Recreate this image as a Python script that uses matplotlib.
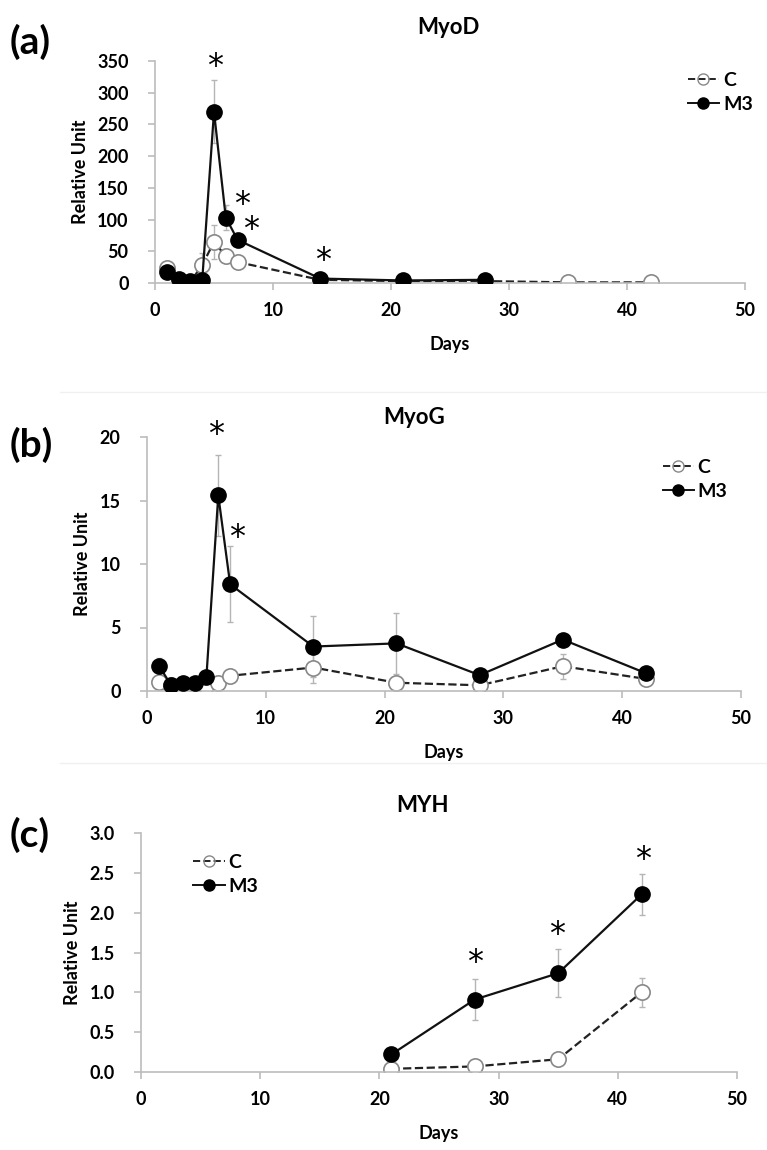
import matplotlib
matplotlib.use('Agg')
import matplotlib.pyplot as plt
from matplotlib.lines import Line2D

plt.rcParams['font.family'] = ['Lato', 'DejaVu Sans']
plt.rcParams['font.weight'] = 'bold'

# ---- data ----
myod_days_c = [1, 2, 3, 4, 5, 6, 7, 14, 21, 28, 35, 42]
myod_c = [23, 5, 2, 28, 65, 42, 33, 5, 3, 3, 1, 1]
myod_c_err = [5, 0, 0, 19, 27, 0, 0, 0, 0, 0, 0, 0]
myod_days_m3 = [1, 2, 3, 4, 5, 6, 7, 14, 21, 28]
myod_m3 = [18, 7, 3, 4, 270, 103, 68, 7, 4, 5]
myod_m3_err = [0, 0, 0, 0, 50, 20, 0, 0, 0, 0]
myod_star_x = [5.05, 7.35, 8.15, 14.2]
myod_star_y = [342, 124, 85, 35]

myog_days = [1, 2, 3, 4, 5, 6, 7, 14, 21, 28, 35, 42]
myog_c = [0.7, 0.5, 0.3, 0.5, 0.4, 0.65, 1.2, 1.85, 0.65, 0.45, 1.95, 0.95]
myog_c_err = [0, 0, 0, 0, 0, 0, 0, 1.2, 0, 0, 1.0, 0]
myog_m3 = [2.0, 0.5, 0.6, 0.6, 1.1, 15.4, 8.4, 3.5, 3.75, 1.25, 4.05, 1.4]
myog_m3_err = [0.6, 0, 0, 0, 0, 3.2, 3.0, 2.4, 2.4, 0, 0.4, 0]
myog_star_x = [5.8, 7.55]
myog_star_y = [20.2, 12.1]

myh_days = [21, 28, 35, 42]
myh_c = [0.04, 0.07, 0.16, 1.0]
myh_c_err = [0, 0, 0, 0.18]
myh_m3 = [0.22, 0.91, 1.24, 2.23]
myh_m3_err = [0.1, 0.26, 0.3, 0.26]
myh_star_x = [28.0, 34.9, 42.1]
myh_star_y = [1.37, 1.72, 2.67]

W, H = 767, 1150
fig = plt.figure(figsize=(W / 100, H / 100), dpi=100)

err_col = '#b5b5b5'
spine_col = '#bcbcbc'


def draw_panel(ax, dc, c, ce, dm, m, me, sx, sy, ymax, ystep, yfmt, leg_anchor):
    ax.errorbar(dc, c, yerr=ce, fmt='none', ecolor=err_col, elinewidth=1, capsize=2.5, zorder=1)
    ax.errorbar(dm, m, yerr=me, fmt='none', ecolor=err_col, elinewidth=1, capsize=2.5, zorder=1)
    ax.plot(dc, c, linestyle='--', color='#222222', lw=1.6, marker='o', ms=11,
            mfc='white', mec='#888888', mew=1.2, label='C', zorder=2)
    ax.plot(dm, m, linestyle='-', color='#111111', lw=1.6, marker='o', ms=11,
            mfc='black', mec='black', label='M3', zorder=3)
    for x, y in zip(sx, sy):
        ax.text(x, y, '*', ha='center', va='center', fontsize=23, fontweight='normal',
                family='DejaVu Sans')
    ax.set_xlim(0, 50)
    ax.set_ylim(0, ymax)
    ax.set_xticks(range(0, 51, 10))
    yt = [i * ystep for i in range(int(round(ymax / ystep)) + 1)]
    ax.set_yticks(yt)
    ax.set_yticklabels([yfmt.format(v) for v in yt])
    for s in ['top', 'right']:
        ax.spines[s].set_visible(False)
    for s in ['left', 'bottom']:
        ax.spines[s].set_color(spine_col)
        ax.spines[s].set_linewidth(1.2)
    ax.tick_params(colors=spine_col, labelcolor='black', labelsize=13, length=5, width=1.2)
    ax.tick_params(axis='x', pad=9)
    ax.tick_params(axis='y', pad=14)
    for lab in ax.get_xticklabels() + ax.get_yticklabels():
        lab.set_fontweight('bold')
    ax.set_xlabel('Days', fontsize=13, fontweight='bold', labelpad=12)
    ax.set_ylabel('Relative Unit', fontsize=13, fontweight='bold', labelpad=6)
    h1 = Line2D([], [], linestyle='--', color='#222222', lw=1.4, marker='o', ms=8,
                mfc='none', mec='#888888')
    h2 = Line2D([], [], linestyle='-', color='#111111', lw=1.4, marker='o', ms=8,
                mfc='black', mec='black')
    leg = ax.legend([h1, h2], ['C', 'M3'], loc='upper left', bbox_to_anchor=leg_anchor,
                    frameon=False, fontsize=14, handlelength=1.6, handletextpad=0.2,
                    labelspacing=0.35, borderaxespad=0)
    for t in leg.get_texts():
        t.set_fontweight('bold')


def px_axes(x0, x1, y_top, y_bot):
    return fig.add_axes([x0 / W, 1 - y_bot / H, (x1 - x0) / W, (y_bot - y_top) / H])


ax1 = px_axes(155, 745, 61, 283)
draw_panel(ax1, myod_days_c, myod_c, myod_c_err, myod_days_m3, myod_m3, myod_m3_err,
           myod_star_x, myod_star_y, 350, 50, '{:.0f}', (0.89, 0.985))

ax2 = px_axes(147, 741, 437, 691)
draw_panel(ax2, myog_days, myog_c, myog_c_err, myog_days, myog_m3, myog_m3_err,
           myog_star_x, myog_star_y, 20, 5, '{:.0f}', (0.855, 0.945))

ax3 = px_axes(141, 737, 833, 1072)
draw_panel(ax3, myh_days, myh_c, myh_c_err, myh_days, myh_m3, myh_m3_err,
           myh_star_x, myh_star_y, 3.0, 0.5, '{:.1f}', (0.075, 0.945))

# titles and panel letters
titles = ['MyoD', 'MyoG', 'MYH']
title_x = [448, 414, 422]
title_y = [28, 418, 805]
letters = ['(a)', '(b)', '(c)']
letter_y = [42, 445, 835]
for t, tx, ty, l, ly in zip(titles, title_x, title_y, letters, letter_y):
    fig.text(tx / W, 1 - ty / H, t, fontsize=16, fontweight='bold', ha='center', va='center')
    fig.text(10 / W, 1 - ly / H, l, fontsize=28, fontweight='bold', ha='left', va='center')

# faint separators between panels
for yy in [392, 763]:
    fig.add_artist(Line2D([60 / W, 1], [1 - yy / H, 1 - yy / H], color='#f0f0f0', lw=1))

fig.savefig('out.png', dpi=100)
